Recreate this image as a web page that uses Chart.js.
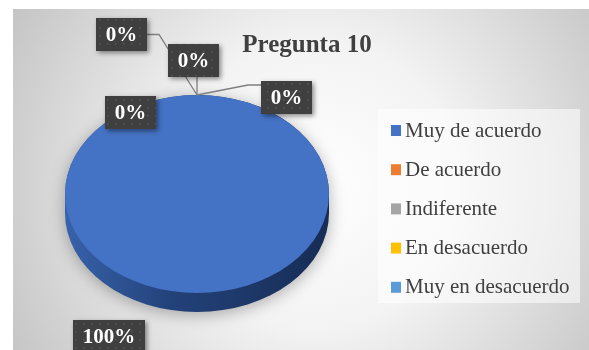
<!doctype html>
<html>
<head>
  <meta charset="utf-8" />
  <title>Pregunta 10</title>
  <style>
    html,body{margin:0;padding:0;background:#fff}
    canvas{display:block}
  </style>
</head>
<body>
  <canvas id="pie" width="589" height="350"></canvas>

  <script src="https://cdn.jsdelivr.net/npm/chart.js@4.4.1/dist/chart.umd.min.js"></script>
  <script>
    // data
    const chartTitle = 'Pregunta 10';
    const categories = ['Muy de acuerdo', 'De acuerdo', 'Indiferente', 'En desacuerdo', 'Muy en desacuerdo'];
    const responses = [100, 0, 0, 0, 0];
    const sliceColors = ['#4472C4', '#ED7D31', '#A5A5A5', '#FFC000', '#5B9BD5'];

    // layout for the data label boxes (top-left corner) and how the leader line leaves them
    const labelBoxes = [
      { x: 73,  y: 320, leader: null },
      { x: 96,  y: 18,  leader: 'right' },
      { x: 168, y: 44,  leader: 'bottom' },
      { x: 261, y: 81,  leader: 'left' },
      { x: 105, y: 96,  leader: null }
    ];

    const TILT = 0.75;    // vertical squash of the pie (3d look)
    const DEPTH = 19;     // thickness of the pie side in px

    const serif = '"Liberation Serif", "DejaVu Serif", serif';

    // dark dotted fill used behind the data labels
    const dots = document.createElement('canvas');
    dots.width = 8; dots.height = 8;
    const dctx = dots.getContext('2d');
    dctx.fillStyle = '#3f3f3f';
    dctx.fillRect(0, 0, 8, 8);
    dctx.fillStyle = '#575757';
    dctx.fillRect(3, 3, 1.5, 1.5);

    function pieArc(chart){
      return chart.getDatasetMeta(0).data[0];
    }

    const backdrop = {
      id: 'backdrop',
      beforeDraw(chart){
        const ctx = chart.ctx;
        const w = chart.width, h = chart.height;
        ctx.save();
        ctx.fillStyle = '#fff';
        ctx.fillRect(0, 0, w, h);
        const g = ctx.createRadialGradient(315, 185, 0, 315, 185, 360);
        g.addColorStop(0, '#ffffff');
        g.addColorStop(0.4, '#f3f3f3');
        g.addColorStop(1, '#c2c2c2');
        ctx.fillStyle = g;
        ctx.fillRect(13, 9, w - 13, h - 9);

        // title
        ctx.fillStyle = '#404040';
        ctx.font = 'bold 25px ' + serif;
        ctx.textAlign = 'center';
        ctx.textBaseline = 'alphabetic';
        ctx.fillText(chartTitle, 307, 52);
        ctx.restore();
      }
    };

    // squash the pie into an ellipse and give it a side wall
    const tilt = {
      id: 'tilt',
      beforeDatasetsDraw(chart){
        const ctx = chart.ctx;
        const arc = pieArc(chart);
        const cx = arc.x, cy = arc.y, r = arc.outerRadius;
        ctx.save();
        ctx.translate(cx, cy);
        ctx.scale(1, TILT);
        ctx.translate(-cx, -cy);

        const d = DEPTH / TILT;
        const side = ctx.createLinearGradient(cx - r, 0, cx + r, 0);
        side.addColorStop(0, '#3862ab');
        side.addColorStop(0.4, '#23427a');
        side.addColorStop(1, '#172c55');

        ctx.save();
        ctx.shadowColor = 'rgba(0,0,0,0.3)';
        ctx.shadowBlur = 16;
        ctx.shadowOffsetY = 3;
        ctx.beginPath();
        ctx.moveTo(cx - r, cy);
        ctx.lineTo(cx - r, cy + d);
        ctx.arc(cx, cy + d, r, Math.PI, 0, true);
        ctx.lineTo(cx + r, cy);
        ctx.arc(cx, cy, r, 0, Math.PI, true);
        ctx.closePath();
        ctx.fillStyle = side;
        ctx.fill();
        ctx.restore();
      },
      afterDatasetsDraw(chart){
        chart.ctx.restore();
      }
    };

    // percentage boxes with leader lines to the slices
    const pctLabels = {
      id: 'pctLabels',
      afterDatasetsDraw(chart){
        const ctx = chart.ctx;
        const meta = chart.getDatasetMeta(0);
        const total = responses.reduce((a, b) => a + b, 0);
        const arc = pieArc(chart);
        ctx.save();
        ctx.font = 'bold 21px ' + serif;

        const boxes = responses.map((v, i) => {
          const text = Math.round(v / total * 100) + '%';
          const w = Math.round(ctx.measureText(text).width) + 19;
          return { text, w, h: 33, ...labelBoxes[i] };
        });

        // leader lines end at the rim point of each slice's mid angle
        ctx.strokeStyle = '#7f7f7f';
        ctx.lineWidth = 1.3;
        boxes.forEach((b, i) => {
          if (!b.leader) return;
          const el = meta.data[i];
          const mid = (el.startAngle + el.endAngle) / 2;
          const ax = arc.x + Math.cos(mid) * el.outerRadius;
          const ay = arc.y + Math.sin(mid) * el.outerRadius * TILT;
          ctx.beginPath();
          if (b.leader === 'right') {
            ctx.moveTo(b.x + b.w, b.y + b.h / 2);
            ctx.lineTo(b.x + b.w + 12, b.y + b.h / 2);
          } else if (b.leader === 'left') {
            ctx.moveTo(b.x, b.y + 4);
            ctx.lineTo(b.x - 13, b.y + 4);
          } else {
            ctx.moveTo(ax, b.y + b.h);
          }
          ctx.lineTo(ax, ay);
          ctx.stroke();
        });

        const pattern = ctx.createPattern(dots, 'repeat');
        boxes.forEach(b => {
          ctx.save();
          ctx.shadowColor = 'rgba(0,0,0,0.45)';
          ctx.shadowBlur = 5;
          ctx.shadowOffsetX = 2;
          ctx.shadowOffsetY = 2;
          ctx.fillStyle = pattern;
          ctx.fillRect(b.x, b.y, b.w, b.h);
          ctx.restore();
          ctx.fillStyle = '#ffffff';
          ctx.textAlign = 'center';
          ctx.textBaseline = 'middle';
          ctx.fillText(b.text, b.x + b.w / 2, b.y + b.h / 2 + 1);
        });
        ctx.restore();
      }
    };

    const sideLegend = {
      id: 'sideLegend',
      afterDraw(chart){
        const ctx = chart.ctx;
        ctx.save();
        ctx.fillStyle = 'rgba(255,255,255,0.55)';
        ctx.fillRect(378, 109, 202, 194);
        ctx.font = '21px ' + serif;
        ctx.textBaseline = 'alphabetic';
        ctx.textAlign = 'left';
        chart.data.labels.forEach((label, i) => {
          const cy = 130 + i * 39.2;
          ctx.fillStyle = chart.data.datasets[0].backgroundColor[i];
          ctx.fillRect(391, cy - 5, 10, 11);
          ctx.fillStyle = '#404040';
          ctx.fillText(label, 405, cy + 6.5);
        });
        ctx.restore();
      }
    };

    new Chart(document.getElementById('pie'), {
      type: 'pie',
      data: {
        labels: categories,
        datasets: [{
          data: responses,
          backgroundColor: sliceColors,
          borderWidth: 0,
          hoverOffset: 0
        }]
      },
      options: {
        responsive: false,
        animation: false,
        events: [],
        layout: { padding: { left: 65, right: 260, top: 62, bottom: 24 } },
        plugins: {
          legend: { display: false },
          title: { display: false },
          tooltip: { enabled: false }
        }
      },
      plugins: [backdrop, tilt, pctLabels, sideLegend]
    });
  </script>
</body>
</html>
